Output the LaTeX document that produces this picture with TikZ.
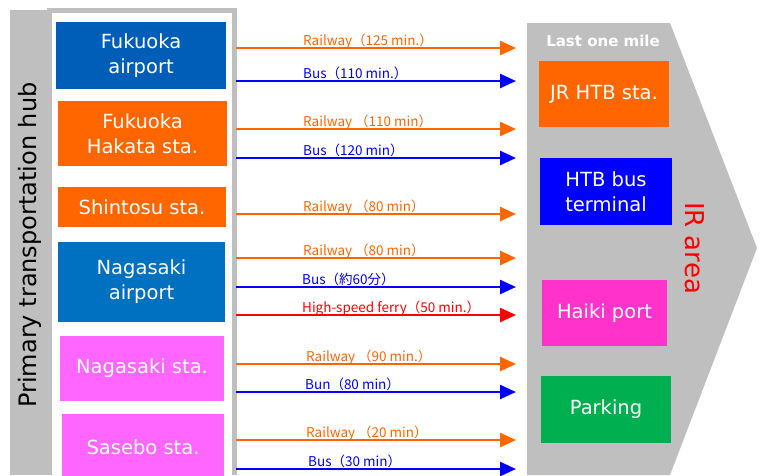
\documentclass[tikz,border=0pt]{standalone}
\usepackage{fontspec}
\setmainfont{DejaVu Sans}
\newfontfamily\cjk{Noto Sans CJK JP}
\usetikzlibrary{arrows.meta, positioning}
\definecolor{hubgray}{HTML}{BFBFBF}
\definecolor{airblue}{HTML}{005EB8}
\definecolor{skyblue}{HTML}{0070C0}
\definecolor{railorange}{HTML}{FF6600}
\definecolor{stapink}{HTML}{FF66FF}
\definecolor{portpink}{HTML}{FF33CC}
\definecolor{parkgreen}{HTML}{00B050}
\definecolor{busblue}{HTML}{0000FF}
\definecolor{ferryred}{HTML}{FF0000}

\begin{document}
\begin{tikzpicture}[x=1pt, y=-1pt,
  box/.style={rectangle, inner sep=0pt, align=center, text=white, font=\fontsize{19.5}{25}\selectfont},
  route/.style={line width=2.5pt, -{Triangle[length=16pt, width=14pt]}},
  lab/.style={anchor=base west, inner sep=0pt, font=\cjk\fontsize{13.5}{16}\selectfont}
]
\useasboundingbox (0,0) rectangle (761,475);

% hub frame
\fill[hubgray] (10,10) rectangle (50,475);
\fill[hubgray] (47,8) rectangle (237,475);
\fill[white] (52,13) rectangle (232,475);
\node[rotate=90, font=\fontsize{24}{28}\selectfont] (hub) at (30,245) {Primary transportation hub};

% last one mile
\fill[hubgray] (527,23) -- (670,23) -- (757,248) -- (670,475) -- (527,475) -- cycle;
\node[text=white, font=\bfseries\fontsize{15}{18}\selectfont] (lastmile) at (603,41) {Last one mile};
\node[rotate=-90, text=ferryred, font=\fontsize{26}{30}\selectfont] (irarea) at (695,248) {IR area};

% primary hubs
\node[box, fill=airblue, minimum width=170pt, minimum height=67pt] (fukair) at (141,55.5) {Fukuoka\\airport};
\node[box, fill=railorange, minimum width=169pt, minimum height=65pt] (hakata) at (142.5,133.5) {Fukuoka\\Hakata sta.};
\node[box, fill=railorange, minimum width=168pt, minimum height=40pt] (shintosu) at (142,207) {Shintosu sta.};
\node[box, fill=skyblue, minimum width=167pt, minimum height=80pt] (nagair) at (141.5,282) {Nagasaki\\airport};
\node[box, fill=stapink, minimum width=164pt, minimum height=65pt] (nagsta) at (142,368.5) {Nagasaki sta.};
\node[box, fill=stapink, minimum width=162pt, minimum height=66pt] (sasebo) at (143,447) {Sasebo sta.};

% IR area spots
\node[box, fill=railorange, minimum width=130pt, minimum height=66pt] (jrhtb) at (604,94) {JR HTB sta.};
\node[box, fill=busblue, minimum width=132pt, minimum height=67pt] (htbbus) at (606,191.5) {HTB bus\\terminal};
\node[box, fill=portpink, minimum width=125pt, minimum height=66pt] (haiki) at (604.5,313) {Haiki port};
\node[box, fill=parkgreen, minimum width=130pt, minimum height=67pt] (parking) at (606,409.5) {Parking};

% routes
\foreach \n/\y/\c/\lx/\t in {
  1/48/railorange/303/Railway（125 min.）,
  2/81/busblue/303/Bus（110 min.）,
  3/129/railorange/303/Railway （110 min）,
  4/158/busblue/303/Bus（120 min）,
  5/214/railorange/303/Railway （80 min）,
  6/258/railorange/303/Railway （80 min）,
  7/287/busblue/302/Bus（約60分）,
  8/315/ferryred/302/High-speed ferry（50 min.）,
  9/364/railorange/306/Railway （90 min.）,
  10/392/busblue/305/Bun（80 min）,
  11/440/railorange/306/Railway （20 min）,
  12/469/busblue/308/Bus（30 min）}{
  \coordinate (from\n) at (236,\y);
  \coordinate (to\n) at (516,\y);
  \draw[route, \c] (from\n) -- (to\n);
  \node[lab, text=\c] (lab\n) at (\lx,\y-3) {\t};
}
\end{tikzpicture}
\end{document}
